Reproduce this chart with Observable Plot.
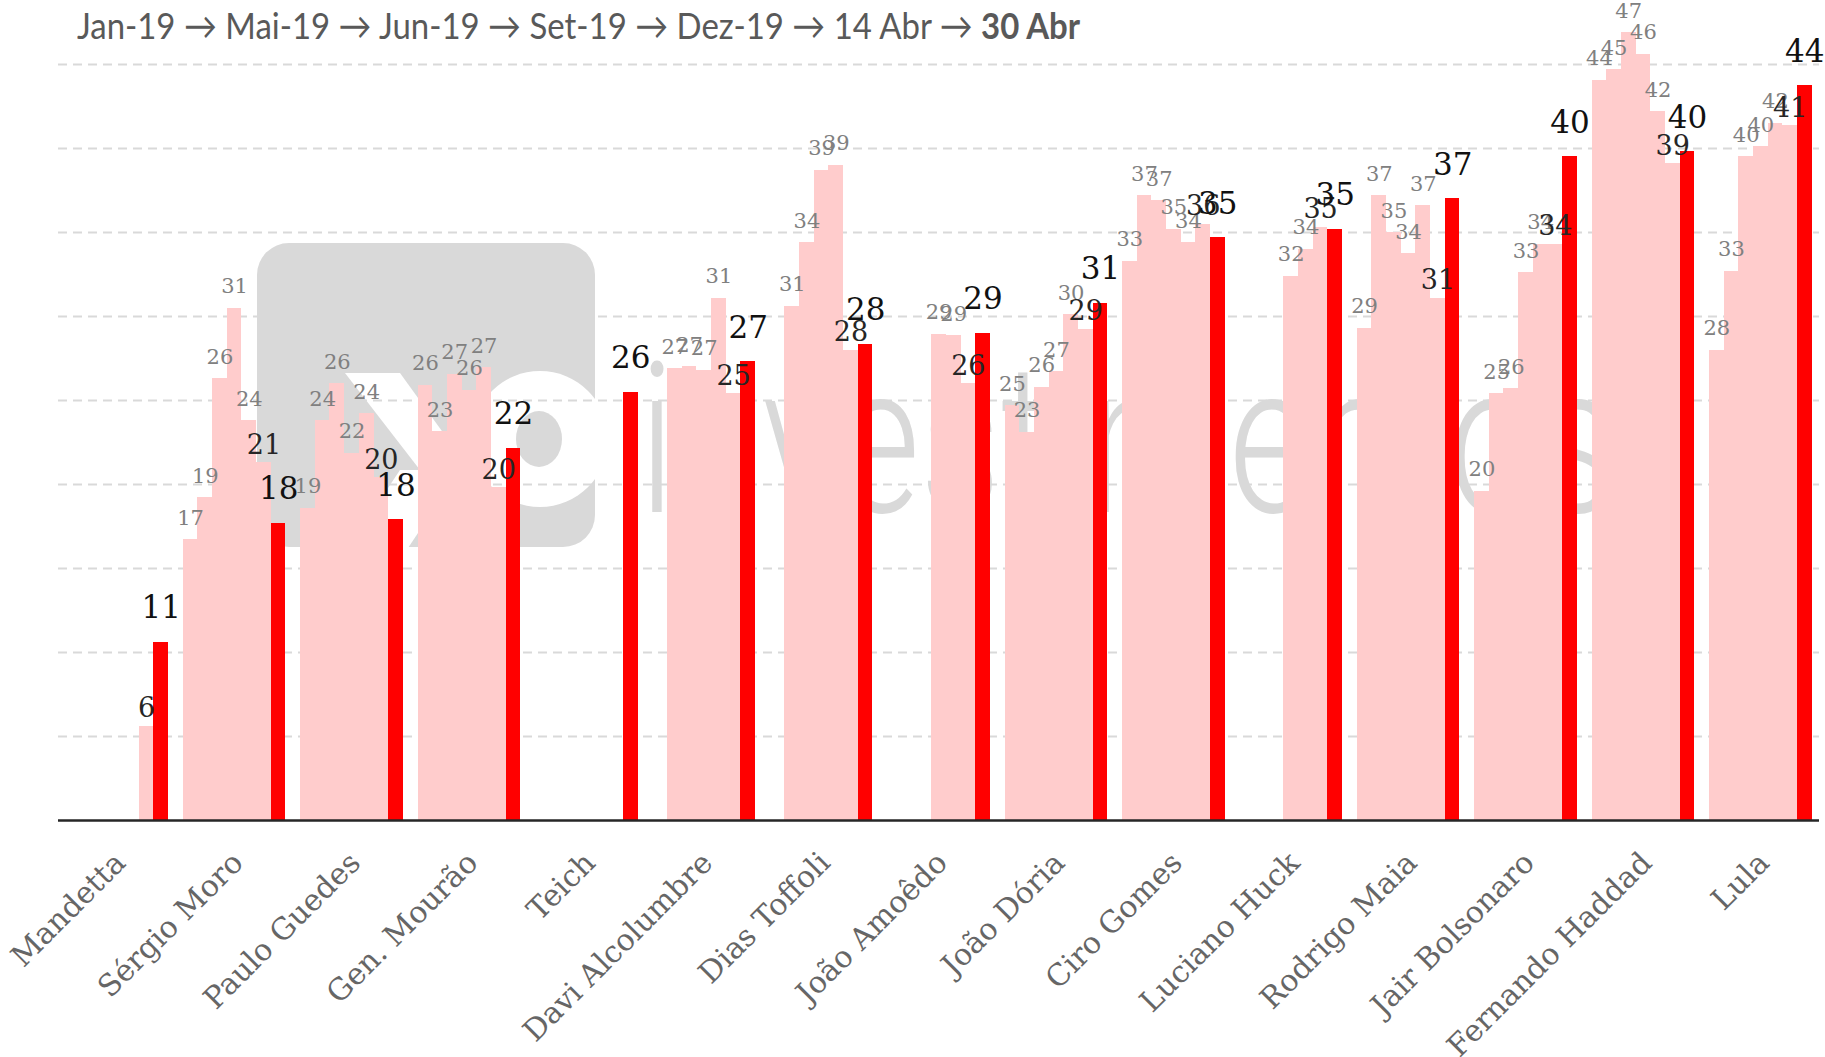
<!DOCTYPE html>
<html><head><meta charset="utf-8">
<script src="https://cdn.jsdelivr.net/npm/d3@7"></script>
<script src="https://cdn.jsdelivr.net/npm/@observablehq/plot@0.6"></script>
<style>
html,body{margin:0;padding:0;background:#fff;}
#wrap{position:relative;width:1825px;height:1057px;overflow:hidden;}
#wm{position:absolute;left:0;top:0;z-index:0;}
#chart{position:absolute;left:0;top:0;z-index:1;}
#title{position:absolute;left:77px;top:6px;z-index:2;font-family:Lato,"Open Sans",sans-serif;font-size:37px;line-height:37px;color:#595959;white-space:nowrap;transform-origin:0 0;}
</style></head><body>
<div id="wrap">
<svg id="wm" width="1825" height="1057">
 <defs><clipPath id="sq"><rect x="257" y="243" width="338" height="304" rx="32"/></clipPath></defs>
 <rect x="257" y="243" width="338" height="304" rx="32" fill="#D9D9D9"/>
 <g clip-path="url(#sq)">
  <polygon points="345,373 400,373 470,470 420,470" fill="#fff"/>
  <polygon points="400,470 460,470 400,560 340,560" fill="#fff"/>
  <circle cx="540" cy="439" r="68" fill="#fff"/>
  <ellipse cx="539" cy="439" rx="23" ry="28" fill="#D9D9D9"/>
 </g>
 <text x="639" y="512" font-family="Roboto, Lato, sans-serif" font-weight="300" font-size="210" fill="#D9D9D9" textLength="979" lengthAdjust="spacingAndGlyphs">investimentos</text>
</svg>
<div id="chart"></div>
<div id="title">Jan-19 → Mai-19 → Jun-19 → Set-19 → Dez-19 → 14 Abr → <b>30 Abr</b></div>
</div>
<script>
const periods = ["Jan-19", "Mai-19", "Jun-19", "Set-19", "Dez-19", "14 Abr", "30 Abr"];
const candidates = ["Mandetta", "Sérgio Moro", "Paulo Guedes", "Gen. Mourão", "Teich", "Davi Alcolumbre", "Dias Toffoli", "João Amoêdo", "João Dória", "Ciro Gomes", "Luciano Huck", "Rodrigo Maia", "Jair Bolsonaro", "Fernando Haddad", "Lula"];
const jan19 = [null, 16.7, 18.6, 25.9, null, null, null, null, 24.7, 33.3, null, 29.3, 19.6, 44.05, 28.0];
const mai19 = [null, 19.2, 23.8, 23.15, null, 26.9, 30.6, null, 23.1, 37.2, null, 37.2, 25.4, 44.7, 32.7];
const jun19 = [null, 26.3, 26.0, 26.56, null, 27.0, 34.4, null, 25.8, 36.9, null, 35.0, 25.7, 46.9, 39.5];
const set19 = [null, 30.5, 21.85, 25.6, null, 26.8, 38.7, 28.95, 26.7, 35.2, 32.4, 33.75, 32.6, 45.6, 40.1];
const dez19 = [null, 23.8, 24.2, 26.96, null, 31.1, 39.0, 28.85, 30.1, 34.4, 34.0, 36.6, 34.3, 42.2, 41.5];
const abr14 = [5.6, 21.3, 20.4, 19.8, null, 25.4, 28.0, 26.0, 29.25, 35.5, 35.3, 31.1, 34.3, 39.1, 41.35];
const abr30 = [10.6, 17.7, 17.9, 22.17, 25.5, 27.3, 28.35, 29.0, 30.8, 34.7, 35.2, 37.0, 39.5, 39.8, 43.75];
const gridValues = [5, 10, 15, 20, 25, 30, 35, 40, 45];

const series = [jan19, mai19, jun19, set19, dez19, abr14, abr30];
const key = (c, p) => c + "|" + p;
const domain = [];
candidates.forEach((c, i) => {
  periods.forEach(p => domain.push(key(c, p)));
  if (i < candidates.length - 1) domain.push(key(c, "gap"));
});
const rows = [];
candidates.forEach((c, i) => periods.forEach((p, j) => {
  const v = series[j][i];
  if (v != null) rows.push({candidate: c, period: p, key: key(c, p), value: v,
    label: String(Math.round(v)), kind: j === 6 ? "now" : j === 5 ? "prev" : "old"});
}));
const old = rows.filter(d => d.kind === "old");
const prev = rows.filter(d => d.kind === "prev");
const now = rows.filter(d => d.kind === "now");
const serif = "DejaVu Serif, serif";

const chart = Plot.plot({
  width: 1825, height: 1057,
  marginTop: 64, marginBottom: 237, marginLeft: 58, marginRight: 6,
  style: {background: "transparent", overflow: "visible"},
  x: {type: "band", domain, paddingInner: 0, paddingOuter: 0.5, axis: null},
  y: {domain: [0, 45], axis: null},
  marks: [
    Plot.ruleY(gridValues, {stroke: "#D9D9D9", strokeWidth: 2, strokeDasharray: "9,6"}),
    Plot.barY(rows.filter(d => d.kind !== "now"), {x: "key", y: "value", fill: "#FFCCCC", shapeRendering: "crispEdges"}),
    Plot.barY(now, {x: "key", y: "value", fill: "#FF0000", shapeRendering: "crispEdges"}),
    Plot.ruleY([0], {stroke: "#262626", strokeWidth: 2.5}),
    Plot.text(old, {x: "key", y: "value", text: "label", lineAnchor: "bottom", dy: -15, fill: "#808080", fontSize: 21, fontFamily: serif}),
    Plot.text(prev, {x: "key", y: "value", text: "label", lineAnchor: "bottom", dy: -9, fill: "#262626", fontSize: 27, fontFamily: serif}),
    Plot.text(now, {x: "key", y: "value", text: "label", lineAnchor: "bottom", dy: -24, fill: "#111", fontSize: 31, fontFamily: serif}),
    Plot.text(candidates, {x: c => key(c, "Set-19"), frameAnchor: "bottom", text: d => d, rotate: -45,
      textAnchor: "end", lineAnchor: "top", dx: -5, dy: 29, fontSize: 30, fill: "#666", fontFamily: serif})
  ]
});
document.getElementById("chart").appendChild(chart);

function fitTitle() {
  const t = document.getElementById("title");
  t.style.transform = "none";
  const w = t.getBoundingClientRect().width;
  t.style.transform = "scaleX(" + (1003 / w) + ")";
}
fitTitle();
if (document.fonts && document.fonts.ready) document.fonts.ready.then(fitTitle);
</script>
</body></html>
